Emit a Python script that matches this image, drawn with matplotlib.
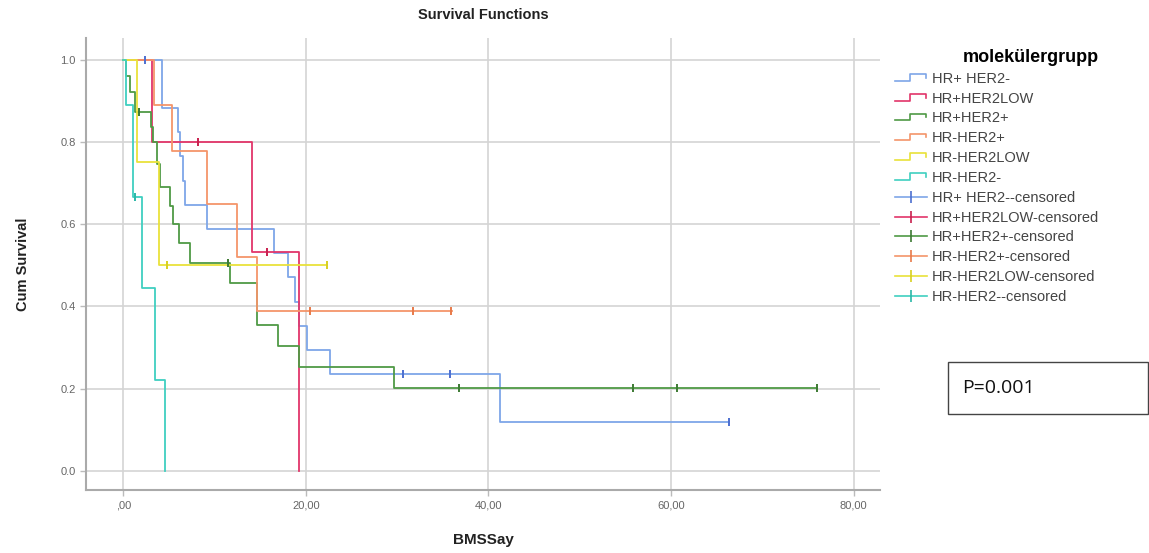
import matplotlib
matplotlib.use("Agg")
import matplotlib.pyplot as plt
import numpy as np
from matplotlib.lines import Line2D
from matplotlib.legend_handler import HandlerBase
from matplotlib.patches import Rectangle

plt.rcParams['font.family'] = ['Liberation Sans', 'DejaVu Sans']

# group names (legend order)
groups = ["HR+ HER2-", "HR+HER2LOW", "HR+HER2+", "HR-HER2+", "HR-HER2LOW", "HR-HER2-"]
colors = ["#7ea6e8", "#e2356a", "#4f9a45", "#f4956a", "#e9e23a", "#3fcfc0"]
mark_colors = ["#4d6fd0", "#c8204e", "#3d7a33", "#e87a4a", "#d8d020", "#2bb8a8"]

# step times / survival levels
t_hrp_neg = [0, 4.3, 6.0, 6.2, 6.6, 6.8, 9.2, 16.5, 18.0, 18.8, 19.3, 20.1, 22.7, 41.3, 66.3]
s_hrp_neg = [1.0, 0.882, 0.824, 0.765, 0.706, 0.647, 0.588, 0.529, 0.471, 0.412, 0.353, 0.294, 0.235, 0.118, 0.118]
c_hrp_neg = [2.4, 30.7, 35.8, 66.3]

t_hrp_low = [0, 3.2, 14.1, 19.3]
s_hrp_low = [1.0, 0.8, 0.533, 0.0]
c_hrp_low = [8.2, 15.8]

t_hrp_pos = [0, 0.3, 0.8, 1.3, 3.0, 3.3, 3.7, 4.0, 5.1, 5.5, 6.1, 7.3, 11.7, 14.7, 17.0, 19.3, 29.7, 76.0]
s_hrp_pos = [1.0, 0.96, 0.92, 0.872, 0.836, 0.80, 0.745, 0.69, 0.645, 0.60, 0.555, 0.506, 0.457, 0.355, 0.304, 0.253, 0.203, 0.203]
c_hrp_pos = [1.75, 11.5, 36.8, 55.8, 60.6, 76.0]

t_hrn_pos = [0, 3.4, 5.4, 9.2, 12.5, 14.7, 36.0]
s_hrn_pos = [1.0, 0.889, 0.778, 0.648, 0.519, 0.389, 0.389]
c_hrn_pos = [20.5, 31.7, 35.9]

t_hrn_low = [0, 1.5, 3.9, 22.3]
s_hrn_low = [1.0, 0.75, 0.5, 0.5]
c_hrn_low = [4.8, 22.3]

t_hrn_neg = [0, 0.3, 1.1, 2.1, 3.5, 4.6]
s_hrn_neg = [1.0, 0.889, 0.667, 0.444, 0.222, 0.0]
c_hrn_neg = [1.25]

times = [t_hrp_neg, t_hrp_low, t_hrp_pos, t_hrn_pos, t_hrn_low, t_hrn_neg]
surv = [s_hrp_neg, s_hrp_low, s_hrp_pos, s_hrn_pos, s_hrn_low, s_hrn_neg]
cens = [c_hrp_neg, c_hrp_low, c_hrp_pos, c_hrn_pos, c_hrn_low, c_hrn_neg]


class StepHandler(HandlerBase):
    # small step-shaped legend key like SPSS
    def create_artists(self, legend, orig_handle, xdescent, ydescent,
                       width, height, fontsize, trans):
        xs = np.array([0, 0.45, 0.45, 0.95, 0.95]) * width - xdescent
        ys = np.array([0.2, 0.2, 0.85, 0.85, 0.5]) * height - ydescent
        ln = Line2D(xs, ys, color=orig_handle.get_color(), lw=1.2, transform=trans)
        return [ln]


fig = plt.figure(figsize=(11.49, 5.53), dpi=100)
ax = fig.add_axes([0.075, 0.114, 0.691, 0.817])

handles = []
for i in range(6):
    t = np.array(times[i])
    s = np.array(surv[i])
    ax.step(t, s, where='post', color=colors[i], lw=1.3, zorder=3)
    c = np.array(cens[i])
    idx = np.searchsorted(t, c, side='right') - 1
    ax.plot(c, s[idx], ls='none', marker='|', ms=6, mew=1.4, color=mark_colors[i], zorder=4)
    handles.append(Line2D([], [], color=colors[i]))

cens_handles = []
for i in range(6):
    cens_handles.append(Line2D([], [], color=colors[i], lw=1.2, marker='|', ms=9, mew=1.2,
                               markeredgecolor=mark_colors[i]))

ax.set_xlim(-4.05, 82.9)
ax.set_ylim(-0.046, 1.052)
ax.set_xticks([0, 20, 40, 60, 80])
ax.set_xticklabels([",00", "20,00", "40,00", "60,00", "80,00"])
ax.set_yticks([0, 0.2, 0.4, 0.6, 0.8, 1.0])
ax.set_yticklabels(["0.0", "0.2", "0.4", "0.6", "0.8", "1.0"])
ax.tick_params(colors="#bbbbbb", labelcolor="#666666", labelsize=8, length=4, width=1)
ax.grid(True, color="#d4d4d4", lw=1.2)
ax.set_axisbelow(True)
for side in ["top", "right"]:
    ax.spines[side].set_visible(False)
for side in ["left", "bottom"]:
    ax.spines[side].set_color("#aaaaaa")
    ax.spines[side].set_linewidth(1.5)

ax.set_xlabel("BMSSay", fontsize=11, fontweight='bold', color="#222222", labelpad=16)
ax.set_ylabel("Cum Survival", fontsize=10.5, fontweight='bold', color="#222222", labelpad=22)
ax.set_title("Survival Functions", fontsize=10.5, fontweight='bold', color="#222222", pad=14)

labels = groups + [g + "-censored" for g in groups]
hmap = {h: StepHandler() for h in handles}
leg = fig.legend(handles + cens_handles, labels, loc='upper left', bbox_to_anchor=(0.774, 0.922),
                 frameon=False, fontsize=10.5, title="molekülergrupp", handler_map=hmap,
                 handlelength=2.2, handletextpad=0.3, labelspacing=0.40, borderaxespad=0)
leg.get_title().set_fontweight('bold')
leg.get_title().set_fontsize(13)
leg._legend_box.align = "right"
for txt in leg.get_texts():
    txt.set_color("#444444")

# P-value box
fig.patches.append(Rectangle((948 / 1149, 1 - 414 / 553), 200 / 1149, 52 / 553,
                             transform=fig.transFigure, fill=False, ec="#444444", lw=1))
fig.text(962 / 1149, 1 - 388 / 553, "P=0.001", fontsize=14, va='center', color="#111111",
         family=["Open Sans", "DejaVu Sans"])

fig.savefig("out.png", dpi=100)
